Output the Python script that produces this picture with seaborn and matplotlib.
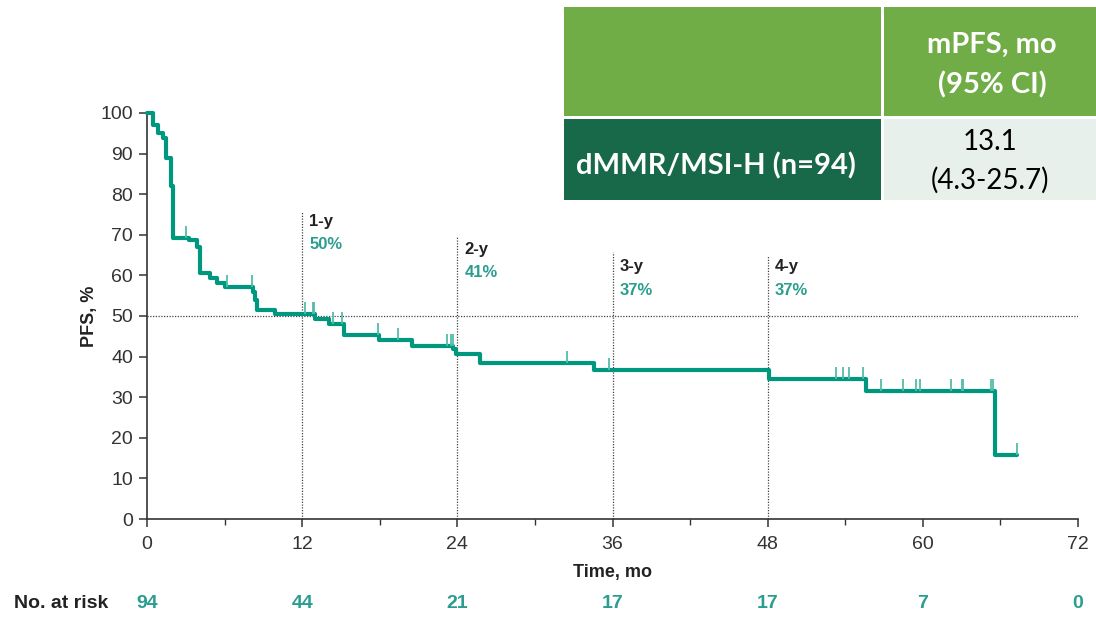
import numpy as np
import pandas as pd
import matplotlib
matplotlib.use("Agg")
import matplotlib.pyplot as plt
import matplotlib.transforms as mtransforms
from matplotlib.patches import Rectangle
from matplotlib.ticker import MultipleLocator
import seaborn as sns

# Kaplan-Meier step curve (time in months, PFS in %)
step_times = [0, 0.49, 0.85, 1.24, 1.5, 1.83, 2.0, 3.25, 3.84, 4.1, 4.87, 5.4,
              6.03, 8.2, 8.35, 8.5, 9.9, 13.0, 14.1, 15.2, 17.96, 20.5, 23.7,
              23.9, 25.75, 34.6, 48.1, 55.6, 65.6]
step_pfs = [100, 97, 95, 93.8, 88.9, 82, 69.1, 68.7, 67, 60.5, 59.3, 58.2,
            57.2, 56, 54, 51.5, 50.5, 49.2, 48, 45.3, 44.1, 42.6, 41.8,
            40.6, 38.5, 36.7, 34.4, 31.6, 15.8]
last_followup = 67.3

# Censored observations (months)
censor_times = [3.0, 6.2, 8.15, 12.2, 12.8, 12.95, 14.4, 15.1, 17.9, 19.4,
                23.2, 23.5, 23.65, 32.5, 35.75, 53.3, 53.8, 54.3, 55.35, 56.8,
                58.5, 59.5, 59.8, 62.2, 63.0, 63.1, 65.25, 65.45, 67.3]

# Landmark estimates
landmark_months = [12, 24, 36, 48]
landmark_names = ["1-y", "2-y", "3-y", "4-y"]
landmark_pct = [50, 41, 37, 37]

# Number at risk
risk_months = [0, 12, 24, 36, 48, 60, 72]
risk_counts = [94, 44, 21, 17, 17, 7, 0]

# Summary table
table_header = "mPFS, mo\n(95% CI)"
table_group = "dMMR/MSI-H (n=94)"
table_median = "13.1\n(4.3-25.7)"

TEAL = "#00977F"
TEAL_TXT = "#2A9D8F"
TICK_TEAL = "#55BBA9"
DARK = "#222222"
AXC = "#333333"

sns.set_style("ticks")
plt.rcParams["font.family"] = ["Liberation Sans", "DejaVu Sans"]

W, H = 1096, 617
fig = plt.figure(figsize=(W / 100, H / 100), dpi=100)
ax = fig.add_axes([147 / W, 1 - 519 / H, (1078 - 147) / W, (519 - 113) / H])

curve = pd.DataFrame({"time": step_times + [last_followup],
                      "pfs": step_pfs + [step_pfs[-1]]})
sns.lineplot(data=curve, x="time", y="pfs", ax=ax, color=TEAL, linewidth=3.0,
             drawstyle="steps-post", estimator=None, sort=False, clip_on=False,
             zorder=4)


def surv_at(t):
    idx = np.searchsorted(step_times, t, side="right") - 1
    return step_pfs[max(idx, 0)]


cens_y = [surv_at(t) for t in censor_times]
ax.vlines(censor_times, cens_y, np.array(cens_y) + 3.0, color=TICK_TEAL,
          linewidth=1.3, zorder=5, clip_on=False)

# Reference lines
ax.plot([0, 72], [50, 50], color="#444444", linestyle=(0, (1, 1.2)),
        linewidth=0.9, zorder=2)
vline_tops = [75.6, 69.5, 65.8, 65.0]
name_y = [73.2, 66.3, 62.1, 62.1]
for m, top, ny, nm, pct in zip(landmark_months, vline_tops, name_y,
                               landmark_names, landmark_pct):
    ax.plot([m, m], [0, top], color="#444444", linestyle=(0, (1, 1.2)),
            linewidth=0.9, zorder=2, clip_on=False)
    ax.text(m + 0.55, ny, nm, color=DARK, fontsize=12, fontweight="bold",
            ha="left", va="center")
    ax.text(m + 0.55, ny - 5.7, f"{pct}%", color=TEAL_TXT, fontsize=12,
            fontweight="bold", ha="left", va="center")

ax.set_xlim(0, 72)
ax.set_ylim(0, 100)
ax.xaxis.set_major_locator(MultipleLocator(12))
ax.xaxis.set_minor_locator(MultipleLocator(6))
ax.yaxis.set_major_locator(MultipleLocator(10))
sns.despine(ax=ax)
for side in ("left", "bottom"):
    ax.spines[side].set_color(AXC)
    ax.spines[side].set_linewidth(1.2)
ax.tick_params(axis="both", which="major", direction="out", length=6,
               width=1.1, color=AXC, labelsize=14, labelcolor=AXC)
ax.tick_params(axis="x", which="major", pad=6)
ax.tick_params(axis="y", which="major", pad=4)
ax.tick_params(axis="x", which="minor", direction="out", length=4, width=1.0,
               color=AXC)
ax.set_xlabel("Time, mo", fontsize=13, fontweight="bold", color=DARK, labelpad=8)
ax.set_ylabel("PFS, %", fontsize=13, fontweight="bold", color=DARK, labelpad=2)

# Number-at-risk row
trans = mtransforms.blended_transform_factory(ax.transData, fig.transFigure)
fig.text(14 / W, 1 - 604 / H, "No. at risk", fontsize=14, fontweight="bold",
         color=DARK, ha="left", va="center")
for m, n in zip(risk_months, risk_counts):
    ax.text(m, 1 - 604 / H, str(n), transform=trans, fontsize=14,
            fontweight="bold", color=TEAL_TXT, ha="center", va="center")

# Summary table drawn in figure pixels
def fig_rect(x0, y0, x1, y1, color):
    fig.patches.append(Rectangle((x0 / W, 1 - y1 / H), (x1 - x0) / W,
                                 (y1 - y0) / H, transform=fig.transFigure,
                                 facecolor=color, edgecolor="none",
                                 figure=fig, zorder=0))


fig_rect(564, 7, 881, 116, "#70AD47")
fig_rect(884, 7, 1096, 116, "#70AD47")
fig_rect(564, 119, 881, 200, "#17694A")
fig_rect(884, 119, 1096, 200, "#E8F0EC")
tfont = ["Lato", "DejaVu Sans"]
fig.text(992 / W, 1 - 65 / H, table_header, fontsize=21, fontweight="bold",
         color="white", ha="center", va="center", linespacing=1.6, family=tfont)
fig.text(576 / W, 1 - 166 / H, table_group, fontsize=21, fontweight="bold",
         color="white", ha="left", va="center", family=tfont)
fig.text(990 / W, 1 - 161 / H, table_median, fontsize=20, color="black",
         ha="center", va="center", linespacing=1.55, family=tfont)

fig.savefig("out.png", dpi=100)
